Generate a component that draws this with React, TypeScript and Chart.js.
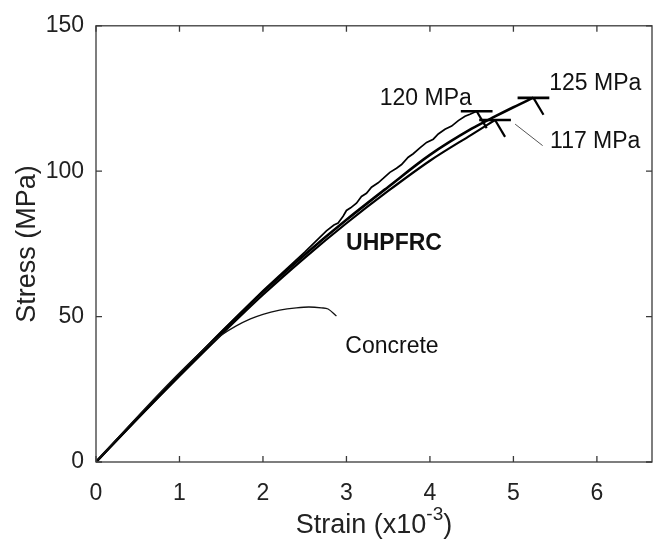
import React, { useEffect, useRef } from "react";
import { Chart, registerables } from "chart.js";

Chart.register(...registerables);

// ---- data ----
const concreteStrain = [0, 0.3, 0.6, 0.9, 1.2, 1.38, 1.5, 1.68, 1.85, 2.0, 2.2, 2.4, 2.55, 2.7, 2.78, 2.88];
const concreteStress = [0, 9.5, 18.8, 27.8, 36.3, 41.0, 43.6, 46.8, 49.2, 50.8, 52.2, 53.0, 53.3, 53.0, 52.6, 50.2];

const specA_Strain = [0, 0.5, 1, 1.5, 2, 2.5, 2.76, 2.85, 2.9, 2.96, 3.0, 3.05, 3.12, 3.18, 3.24, 3.3, 3.38, 3.44, 3.52, 3.6, 3.66, 3.74, 3.8, 3.88, 3.96, 4.04, 4.1, 4.18, 4.26, 4.34, 4.42, 4.48, 4.56];
const specA_Stress = [0, 15.4, 30.3, 44.8, 58.9, 72.2, 79.5, 81.5, 82.2, 84.5, 86.5, 87.4, 89.0, 91.3, 92.4, 94.5, 96.0, 97.5, 99.6, 101.0, 102.3, 104.8, 106.0, 108.0, 109.9, 111.0, 112.8, 114.4, 115.5, 117.4, 118.9, 119.6, 120.6];

const specB_Strain = [0, 0.5, 1, 1.5, 2, 2.5, 3, 3.5, 4, 4.5, 4.75, 5.0, 5.24];
const specB_Stress = [0, 15.2, 30.0, 44.5, 58.5, 71.3, 83.3, 94.6, 105.6, 114.6, 118.4, 122.0, 125.3];

const specC_Strain = [0, 0.5, 1, 1.5, 2, 2.5, 3, 3.5, 4, 4.5, 4.78];
const specC_Stress = [0, 15.0, 29.6, 43.8, 57.5, 70.2, 82.1, 93.2, 103.6, 112.6, 117.6];

const peakStrain = [4.56, 5.24, 4.78];
const peakStress = [120.6, 125.2, 117.6];
const peakLabels = ["120 MPa", "125 MPa", "117 MPa"];
const peakLabelStrain = [3.95, 5.98, 5.98];
const peakLabelStress = [124.8, 130.0, 110.1];

const curveLabels = ["UHPFRC", "Concrete"];
const curveLabelStrain = [3.57, 3.545];
const curveLabelStress = [75, 39.6];

const xTicks = [0, 1, 2, 3, 4, 5, 6];
const yTicks = [0, 50, 100, 150];

const FONT = "'Liberation Sans', Arial, Helvetica, sans-serif";
const INK = "#222222";
const AXIS = "#3a3a3a";

const pts = (xs: number[], ys: number[]) => xs.map((x, i) => ({ x, y: ys[i] }));

export default function App() {
  const ref = useRef<HTMLCanvasElement | null>(null);

  useEffect(() => {
    if (!ref.current) return;

    const line = (data: any[], width: number, color = "#000", smooth = false) => ({
      type: "line" as const,
      data,
      borderColor: color,
      borderWidth: width,
      pointRadius: 0,
      fill: false,
      tension: smooth ? 0.4 : 0,
      cubicInterpolationMode: smooth ? ("monotone" as const) : ("default" as const),
    });

    const datasets: any[] = [
      line(pts(concreteStrain, concreteStress), 1.3, "#111", true),
      line(pts(specB_Strain, specB_Stress), 2.6, "#000", true),
      line(pts(specC_Strain, specC_Stress), 2.2, "#000", true),
      line(pts(specA_Strain, specA_Stress), 1.7, "#000", false),
    ];
    // failure markers (bar + tick) derived from peak values
    peakStrain.forEach((p, i) => {
      const s = peakStress[i];
      datasets.push(line([{ x: p - 0.19, y: s }, { x: p + 0.19, y: s }], 2.6));
      datasets.push(line([{ x: p, y: s }, { x: p + 0.12, y: s - 5.8 }], 2.2));
    });
    // leader line for 117 MPa label
    datasets.push(
      line(
        [
          { x: peakStrain[2] + 0.24, y: peakStress[2] - 1.4 },
          { x: peakStrain[2] + 0.57, y: peakStress[2] - 8.8 },
        ],
        1,
        "#555"
      )
    );

    const decor = {
      id: "decor",
      afterDraw(chart: any) {
        const ctx = chart.ctx as CanvasRenderingContext2D;
        const { left, right, top, bottom } = chart.chartArea;
        const xs = chart.scales.x;
        const ys = chart.scales.y;
        ctx.save();
        // box
        ctx.strokeStyle = AXIS;
        ctx.lineWidth = 1.3;
        ctx.strokeRect(left, top, right - left, bottom - top);
        // inward ticks
        const tl = 6;
        ctx.beginPath();
        xTicks.forEach((v) => {
          const px = xs.getPixelForValue(v);
          ctx.moveTo(px, bottom);
          ctx.lineTo(px, bottom - tl);
          ctx.moveTo(px, top);
          ctx.lineTo(px, top + tl);
        });
        yTicks.forEach((v) => {
          const py = ys.getPixelForValue(v);
          ctx.moveTo(left, py);
          ctx.lineTo(left + tl, py);
          ctx.moveTo(right, py);
          ctx.lineTo(right - tl, py);
        });
        ctx.stroke();

        // annotations
        ctx.fillStyle = "#111";
        ctx.textAlign = "center";
        ctx.textBaseline = "middle";
        ctx.font = `23px ${FONT}`;
        peakLabels.forEach((t, i) => {
          ctx.fillText(t, xs.getPixelForValue(peakLabelStrain[i]), ys.getPixelForValue(peakLabelStress[i]));
        });
        ctx.font = `bold 23px ${FONT}`;
        ctx.fillText(curveLabels[0], xs.getPixelForValue(curveLabelStrain[0]), ys.getPixelForValue(curveLabelStress[0]));
        ctx.font = `23px ${FONT}`;
        ctx.fillText(curveLabels[1], xs.getPixelForValue(curveLabelStrain[1]), ys.getPixelForValue(curveLabelStress[1]));

        // axis titles
        ctx.fillStyle = INK;
        const cx = (left + right) / 2;
        const main = "Strain (x10";
        const sup = "-3";
        const end = ")";
        const bigF = `27px ${FONT}`;
        const supF = `19px ${FONT}`;
        ctx.font = bigF;
        const w1 = ctx.measureText(main).width;
        const w3 = ctx.measureText(end).width;
        ctx.font = supF;
        const w2 = ctx.measureText(sup).width;
        const total = w1 + w2 + w3;
        const x0 = cx - total / 2;
        const base = 533;
        ctx.textAlign = "left";
        ctx.textBaseline = "alphabetic";
        ctx.font = bigF;
        ctx.fillText(main, x0, base);
        ctx.font = supF;
        ctx.fillText(sup, x0 + w1, base - 13);
        ctx.font = bigF;
        ctx.fillText(end, x0 + w1 + w2, base);

        ctx.translate(35, (top + bottom) / 2);
        ctx.rotate(-Math.PI / 2);
        ctx.textAlign = "center";
        ctx.textBaseline = "alphabetic";
        ctx.font = bigF;
        ctx.fillText("Stress (MPa)", 0, 0);
        ctx.restore();
      },
    };

    const chart = new Chart(ref.current, {
      type: "line",
      data: { datasets },
      options: {
        animation: false,
        responsive: false,
        maintainAspectRatio: false,
        layout: { padding: { left: 0, right: 8, top: 18, bottom: 0 } },
        plugins: { legend: { display: false }, tooltip: { enabled: false } },
        scales: {
          x: {
            type: "linear",
            min: 0,
            max: 6.66,
            grid: { display: false, drawTicks: false },
            border: { display: false },
            ticks: {
              stepSize: 1,
              includeBounds: false,
              padding: 18,
              color: INK,
              font: { family: FONT, size: 23 },
              maxRotation: 0,
            },
            afterFit: (s: any) => {
              s.height = 82;
            },
          },
          y: {
            type: "linear",
            min: 0,
            max: 150,
            grid: { display: false, drawTicks: false },
            border: { display: false },
            ticks: {
              stepSize: 50,
              padding: 12,
              color: INK,
              font: { family: FONT, size: 23 },
            },
            afterFit: (s: any) => {
              s.width = 96;
            },
          },
        },
      },
      plugins: [decor],
    });
    return () => chart.destroy();
  }, []);

  return (
    <div style={{ position: "fixed", left: 0, top: 0, width: 660, height: 544, background: "#fff" }}>
      <canvas ref={ref} width={660} height={544} style={{ width: 660, height: 544, display: "block" }} />
    </div>
  );
}
